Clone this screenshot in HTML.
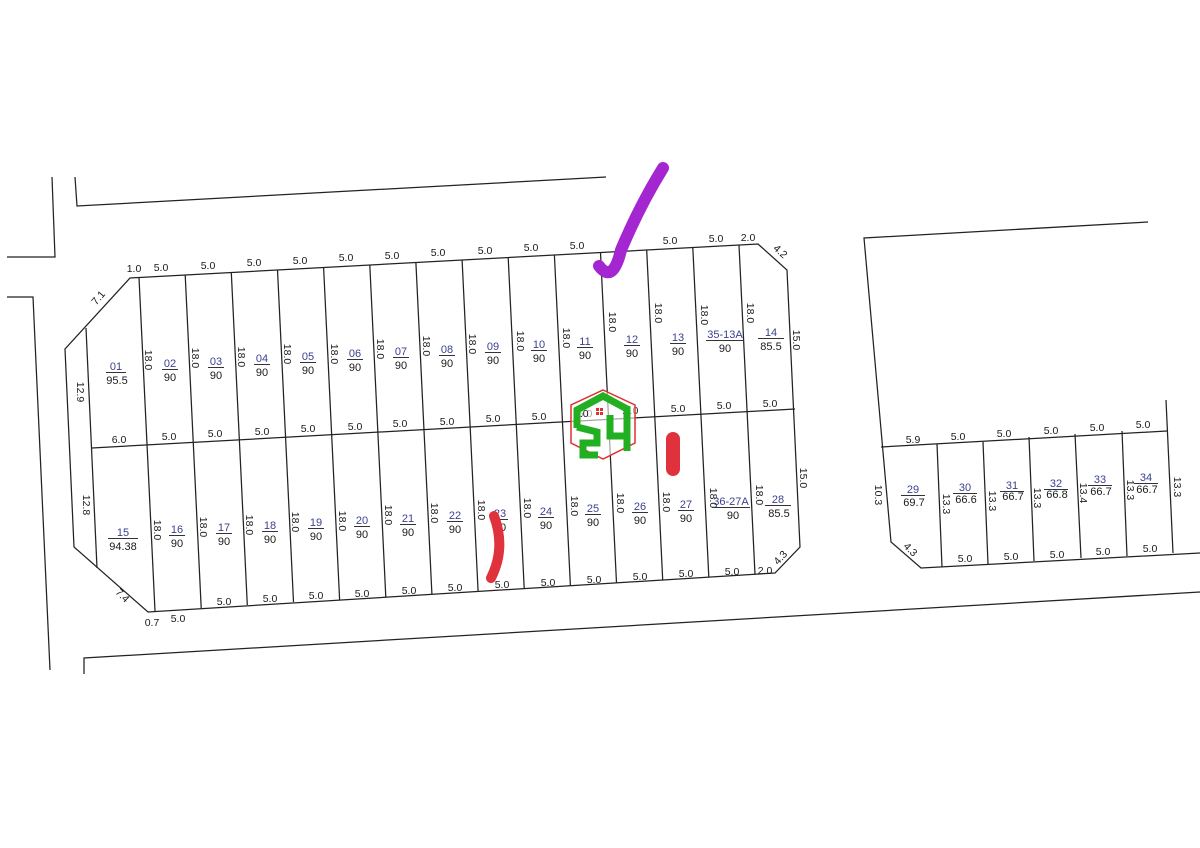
<!DOCTYPE html>
<html><head><meta charset="utf-8"><style>
html,body{margin:0;padding:0;background:#fff;}
svg{display:block;}
text{font-family:"Liberation Sans",sans-serif;font-size:10.5px;fill:#1a1a1a;}
.n{fill:#3a3f8f;text-anchor:middle;font-size:11px;}
.a{text-anchor:middle;font-size:11px;fill:#1a1a1a;}
.d{text-anchor:middle;}
</style></head><body>
<svg width="1200" height="848" viewBox="0 0 1200 848" xmlns="http://www.w3.org/2000/svg">
<g fill="none" stroke="#222" stroke-width="1.25">
<polyline points="52,177 55,257 7,257"/>
<polyline points="75,177 77,206 606,177"/>
<polyline points="7,297 33,297 50,670"/>
<polyline points="84,674 84,658 1200,592"/>
<polyline points="1148,222 864,238 891,542 921,568 1200,553"/>
<line x1="881" y1="447" x2="1167" y2="431"/>
<line x1="1166" y1="400" x2="1173" y2="553"/>
<line x1="937" y1="444" x2="942" y2="567"/>
<line x1="983" y1="442" x2="988" y2="564"/>
<line x1="1029" y1="437" x2="1034" y2="561"/>
<line x1="1075" y1="434" x2="1081" y2="558"/>
<line x1="1122" y1="431" x2="1127" y2="556"/>
<polygon points="130,278 758,244 787,270 800,547 775,573 148,612 74,547 65,349"/>
<line x1="86" y1="328" x2="97" y2="568"/>
<line x1="92" y1="448" x2="795" y2="409"/>
<line x1="139" y1="277.5" x2="155" y2="611"/>
<line x1="185.2" y1="275" x2="201.2" y2="608"/>
<line x1="231.3" y1="272.5" x2="247.3" y2="605"/>
<line x1="277.5" y1="270" x2="293.5" y2="602"/>
<line x1="323.6" y1="267.5" x2="339.6" y2="599.5"/>
<line x1="369.8" y1="265.1" x2="385.8" y2="597"/>
<line x1="415.9" y1="262.6" x2="431.9" y2="594"/>
<line x1="462.1" y1="260.1" x2="478.1" y2="591.5"/>
<line x1="508.2" y1="257.6" x2="524.2" y2="588.5"/>
<line x1="554.4" y1="255.1" x2="570.4" y2="586"/>
<line x1="600.5" y1="252.6" x2="616.5" y2="583"/>
<line x1="646.7" y1="250.1" x2="662.7" y2="580"/>
<line x1="692.8" y1="247.6" x2="708.8" y2="577"/>
<line x1="739" y1="245.1" x2="755" y2="574.5"/>
</g>

<g class="d">
<text x="134" y="272">1.0</text><text x="161" y="271">5.0</text><text x="208" y="269">5.0</text><text x="254" y="266">5.0</text><text x="300" y="264">5.0</text><text x="346" y="261">5.0</text><text x="392" y="259">5.0</text><text x="438" y="256">5.0</text><text x="485" y="254">5.0</text><text x="531" y="251">5.0</text><text x="577" y="249">5.0</text><text x="670" y="244">5.0</text><text x="716" y="242">5.0</text><text x="748" y="241">2.0</text>
<text transform="translate(778,254) rotate(42)">4.2</text>
<text transform="translate(101,300) rotate(-50)">7.1</text>
<text x="119" y="443">6.0</text><text x="169" y="440">5.0</text><text x="215" y="437">5.0</text><text x="262" y="435">5.0</text><text x="308" y="432">5.0</text><text x="355" y="430">5.0</text><text x="400" y="427">5.0</text><text x="447" y="425">5.0</text><text x="493" y="422">5.0</text><text x="539" y="420">5.0</text><text x="585" y="417">5.0</text><text x="631" y="414">5.0</text><text x="678" y="412">5.0</text><text x="724" y="409">5.0</text><text x="770" y="407">5.0</text>
<text x="224" y="605">5.0</text><text x="270" y="602">5.0</text><text x="316" y="599">5.0</text><text x="362" y="597">5.0</text><text x="409" y="594">5.0</text><text x="455" y="591">5.0</text><text x="502" y="588">5.0</text><text x="548" y="586">5.0</text><text x="594" y="583">5.0</text><text x="640" y="580">5.0</text><text x="686" y="577">5.0</text><text x="732" y="575">5.0</text><text x="765" y="574">2.0</text>
<text transform="translate(783,560) rotate(-48)">4.3</text>
<text x="152" y="626">0.7</text><text x="178" y="622">5.0</text>
<text transform="translate(120,598) rotate(45)">7.4</text>
<text transform="translate(77,392) rotate(90)">12.9</text>
<text transform="translate(83,505) rotate(90)">12.8</text>
<text transform="translate(793,340) rotate(90)">15.0</text>
<text transform="translate(800,478) rotate(90)">15.0</text>
</g>

<g class="d">
<text transform="translate(145,360) rotate(90)">18.0</text>
<text transform="translate(192,358) rotate(90)">18.0</text>
<text transform="translate(238,357) rotate(90)">18.0</text>
<text transform="translate(284,354) rotate(90)">18.0</text>
<text transform="translate(331,354) rotate(90)">18.0</text>
<text transform="translate(377,349) rotate(90)">18.0</text>
<text transform="translate(423,346) rotate(90)">18.0</text>
<text transform="translate(469,344) rotate(90)">18.0</text>
<text transform="translate(517,341) rotate(90)">18.0</text>
<text transform="translate(563,338) rotate(90)">18.0</text>
<text transform="translate(609,322) rotate(90)">18.0</text>
<text transform="translate(655,313) rotate(90)">18.0</text>
<text transform="translate(701,315) rotate(90)">18.0</text>
<text transform="translate(747,313) rotate(90)">18.0</text>
<text transform="translate(154,530) rotate(90)">18.0</text>
<text transform="translate(200,527) rotate(90)">18.0</text>
<text transform="translate(246,525) rotate(90)">18.0</text>
<text transform="translate(292,522) rotate(90)">18.0</text>
<text transform="translate(339,521) rotate(90)">18.0</text>
<text transform="translate(385,515) rotate(90)">18.0</text>
<text transform="translate(431,513) rotate(90)">18.0</text>
<text transform="translate(478,510) rotate(90)">18.0</text>
<text transform="translate(524,508) rotate(90)">18.0</text>
<text transform="translate(571,506) rotate(90)">18.0</text>
<text transform="translate(617,503) rotate(90)">18.0</text>
<text transform="translate(663,502) rotate(90)">18.0</text>
<text transform="translate(710,498) rotate(90)">18.0</text>
<text transform="translate(756,495) rotate(90)">18.0</text>
</g>

<g>
<text class="n" x="116" y="370">01</text><line x1="106" y1="372.5" x2="126" y2="372.5" stroke="#333"/><text class="a" x="117" y="384">95.5</text>
<text class="n" x="170" y="367">02</text><line x1="162" y1="369.5" x2="178" y2="369.5" stroke="#333"/><text class="a" x="170" y="381">90</text>
<text class="n" x="216" y="365">03</text><line x1="208" y1="367.5" x2="224" y2="367.5" stroke="#333"/><text class="a" x="216" y="379">90</text>
<text class="n" x="262" y="362">04</text><line x1="254" y1="364.5" x2="270" y2="364.5" stroke="#333"/><text class="a" x="262" y="376">90</text>
<text class="n" x="308" y="360">05</text><line x1="300" y1="362.5" x2="316" y2="362.5" stroke="#333"/><text class="a" x="308" y="374">90</text>
<text class="n" x="355" y="357">06</text><line x1="347" y1="359.5" x2="363" y2="359.5" stroke="#333"/><text class="a" x="355" y="371">90</text>
<text class="n" x="401" y="355">07</text><line x1="393" y1="357.5" x2="409" y2="357.5" stroke="#333"/><text class="a" x="401" y="369">90</text>
<text class="n" x="447" y="353">08</text><line x1="439" y1="355.5" x2="455" y2="355.5" stroke="#333"/><text class="a" x="447" y="367">90</text>
<text class="n" x="493" y="350">09</text><line x1="485" y1="352.5" x2="501" y2="352.5" stroke="#333"/><text class="a" x="493" y="364">90</text>
<text class="n" x="539" y="348">10</text><line x1="531" y1="350.5" x2="547" y2="350.5" stroke="#333"/><text class="a" x="539" y="362">90</text>
<text class="n" x="585" y="345">11</text><line x1="577" y1="347.5" x2="593" y2="347.5" stroke="#333"/><text class="a" x="585" y="359">90</text>
<text class="n" x="632" y="343">12</text><line x1="624" y1="345.5" x2="640" y2="345.5" stroke="#333"/><text class="a" x="632" y="357">90</text>
<text class="n" x="678" y="341">13</text><line x1="670" y1="343.5" x2="686" y2="343.5" stroke="#333"/><text class="a" x="678" y="355">90</text>
<text class="n" x="725" y="338">35-13A</text><line x1="706" y1="340.5" x2="744" y2="340.5" stroke="#333"/><text class="a" x="725" y="352">90</text>
<text class="n" x="771" y="336">14</text><line x1="758" y1="338.5" x2="784" y2="338.5" stroke="#333"/><text class="a" x="771" y="350">85.5</text>
</g>
<g>
<text class="n" x="123" y="536">15</text><line x1="108" y1="538.5" x2="138" y2="538.5" stroke="#333"/><text class="a" x="123" y="550">94.38</text>
<text class="n" x="177" y="533">16</text><line x1="169" y1="535.5" x2="185" y2="535.5" stroke="#333"/><text class="a" x="177" y="547">90</text>
<text class="n" x="224" y="531">17</text><line x1="216" y1="533.5" x2="232" y2="533.5" stroke="#333"/><text class="a" x="224" y="545">90</text>
<text class="n" x="270" y="529">18</text><line x1="262" y1="531.5" x2="278" y2="531.5" stroke="#333"/><text class="a" x="270" y="543">90</text>
<text class="n" x="316" y="526">19</text><line x1="308" y1="528.5" x2="324" y2="528.5" stroke="#333"/><text class="a" x="316" y="540">90</text>
<text class="n" x="362" y="524">20</text><line x1="354" y1="526.5" x2="370" y2="526.5" stroke="#333"/><text class="a" x="362" y="538">90</text>
<text class="n" x="408" y="522">21</text><line x1="400" y1="524.5" x2="416" y2="524.5" stroke="#333"/><text class="a" x="408" y="536">90</text>
<text class="n" x="455" y="519">22</text><line x1="447" y1="521.5" x2="463" y2="521.5" stroke="#333"/><text class="a" x="455" y="533">90</text>
<text class="n" x="500" y="517">23</text><line x1="492" y1="519.5" x2="508" y2="519.5" stroke="#333"/><text class="a" x="500" y="531">90</text>
<text class="n" x="546" y="515">24</text><line x1="538" y1="517.5" x2="554" y2="517.5" stroke="#333"/><text class="a" x="546" y="529">90</text>
<text class="n" x="593" y="512">25</text><line x1="585" y1="514.5" x2="601" y2="514.5" stroke="#333"/><text class="a" x="593" y="526">90</text>
<text class="n" x="640" y="510">26</text><line x1="632" y1="512.5" x2="648" y2="512.5" stroke="#333"/><text class="a" x="640" y="524">90</text>
<text class="n" x="686" y="508">27</text><line x1="678" y1="510.5" x2="694" y2="510.5" stroke="#333"/><text class="a" x="686" y="522">90</text>
<text class="n" x="731" y="505">36-27A</text><line x1="712" y1="507.5" x2="750" y2="507.5" stroke="#333"/><text class="a" x="733" y="519">90</text>
<text class="n" x="778" y="503">28</text><line x1="765" y1="505.5" x2="791" y2="505.5" stroke="#333"/><text class="a" x="779" y="517">85.5</text>
</g>

<g class="d">
<text x="913" y="443">5.9</text><text x="958" y="440">5.0</text><text x="1004" y="437">5.0</text><text x="1051" y="434">5.0</text><text x="1097" y="431">5.0</text><text x="1143" y="428">5.0</text>
<text x="965" y="562">5.0</text><text x="1011" y="560">5.0</text><text x="1057" y="558">5.0</text><text x="1103" y="555">5.0</text><text x="1150" y="552">5.0</text>
<text transform="translate(908,552) rotate(45)">4.3</text>
<text transform="translate(875,495) rotate(90)">10.3</text>
<text transform="translate(943,504) rotate(90)">13.3</text>
<text transform="translate(989,501) rotate(90)">13.3</text>
<text transform="translate(1034,498) rotate(90)">13.3</text>
<text transform="translate(1080,493) rotate(90)">13.4</text>
<text transform="translate(1127,490) rotate(90)">13.3</text>
<text transform="translate(1174,487) rotate(90)">13.3</text>
</g>
<g>
<text class="n" x="913" y="493">29</text><line x1="901" y1="495.5" x2="925" y2="495.5" stroke="#333"/><text class="a" x="914" y="506">69.7</text>
<text class="n" x="965" y="491">30</text><line x1="953" y1="493.5" x2="977" y2="493.5" stroke="#333"/><text class="a" x="966" y="503">66.6</text>
<text class="n" x="1012" y="489">31</text><line x1="1000" y1="491.5" x2="1024" y2="491.5" stroke="#333"/><text class="a" x="1013" y="500">66.7</text>
<text class="n" x="1056" y="487">32</text><line x1="1044" y1="489.5" x2="1068" y2="489.5" stroke="#333"/><text class="a" x="1057" y="498">66.8</text>
<text class="n" x="1100" y="483">33</text><line x1="1088" y1="485.5" x2="1112" y2="485.5" stroke="#333"/><text class="a" x="1101" y="495">66.7</text>
<text class="n" x="1146" y="481">34</text><line x1="1134" y1="483.5" x2="1158" y2="483.5" stroke="#333"/><text class="a" x="1147" y="493">66.7</text>
</g>

<g>
<polygon points="603,390 635,405 635,443 603,459 571,443 571,405" fill="#fff" fill-opacity="0.6" stroke="#e03030" stroke-width="1.5"/>
<text x="574" y="417" font-size="10">5.0</text><text x="622" y="414" font-size="10">.0</text>
<g fill="none" stroke="#22b022" stroke-width="7" stroke-linejoin="miter" stroke-linecap="butt">
<polyline points="577,428 577,410 603,396 627,409"/>
<polyline points="577,427 597,432 597,443 583,443 583,455 598,455"/>
<polyline points="610,415 610,436 627,436"/>
<polyline points="627,406 627,451"/>
</g>
<rect x="596" y="408" width="3" height="3" fill="#e03030"/><rect x="600" y="408" width="3" height="3" fill="#e03030"/>
<rect x="596" y="412" width="3" height="3" fill="#e03030"/><rect x="600" y="412" width="3" height="3" fill="#e03030"/>
</g>

<path d="M663,168 Q640,205 621,250 Q613,284 599,266" fill="none" stroke="#a426d0" stroke-width="12" stroke-linecap="round" stroke-linejoin="round"/>
<line x1="673" y1="439" x2="673" y2="469" stroke="#e0323c" stroke-width="14" stroke-linecap="round"/>
<path d="M494,516 Q506,548 491,578" fill="none" stroke="#e0323c" stroke-width="10" stroke-linecap="round"/>
</svg>
</body></html>
